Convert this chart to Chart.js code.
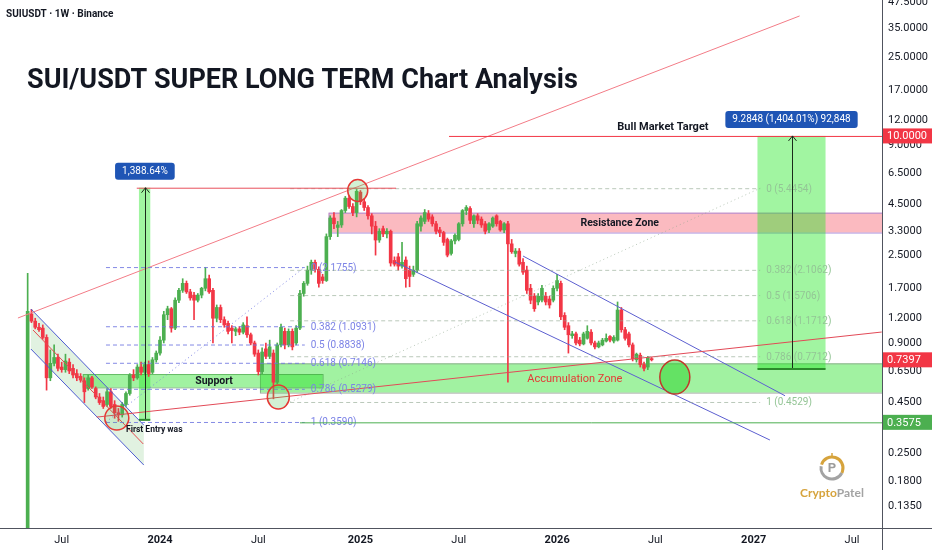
<!DOCTYPE html>
<html>
<head>
<meta charset="utf-8">
<script src="https://cdn.jsdelivr.net/npm/chart.js@4.4.1/dist/chart.umd.min.js"></script>
<style>
  html, body { margin: 0; padding: 0; background: #fff; }
  canvas { display: block; }
</style>
</head>
<body>
<canvas id="chart" width="932" height="550"></canvas>
<script>
// weekly SUIUSDT candles, first week starts 2023-05-01
const firstWeek = '2023-05-01';
const opens = [
  0.10, 1.26, 1.16, 1.08, 1.07, 0.96, 0.60, 0.71, 0.76, 0.68, 0.66, 0.72, 0.67, 0.63, 0.61, 0.58, 0.53, 0.60, 0.53, 0.48,
  0.46, 0.44, 0.51, 0.44, 0.40, 0.39, 0.44, 0.50, 0.62, 0.60, 0.68, 0.64, 0.70, 0.64, 0.74, 0.80, 0.93, 1.25, 1.34, 1.07,
  1.48, 1.66, 1.80, 1.63, 1.57, 1.48, 1.57, 1.70, 1.90, 1.66, 1.20, 1.36, 1.18, 1.13, 1.07, 1.03, 1.06, 1.02, 1.10, 0.99,
  0.90, 0.80, 0.645, 0.84, 0.77, 0.80, 0.57, 0.88, 1.03, 0.88, 1.03, 0.90, 1.07, 1.60, 1.80, 2.10, 2.30, 2.12, 1.94, 1.86,
  3.10, 3.85, 3.45, 3.55, 4.20, 4.85, 4.40, 4.10, 5.20, 4.65, 4.35, 3.95, 3.50, 2.98, 3.40, 3.20, 3.30, 2.35, 2.45, 2.20,
  2.36, 2.10, 2.00, 2.10, 3.50, 3.70, 4.05, 3.90, 3.60, 3.35, 3.25, 3.00, 2.55, 2.95, 3.00, 3.60, 4.20, 4.30, 3.60, 3.95,
  3.80, 3.60, 3.35, 3.50, 3.95, 3.70, 3.35, 3.60, 2.85, 2.55, 2.62, 2.30, 2.10, 1.70, 1.55, 1.45, 1.48, 1.55, 1.50, 1.48,
  1.70, 1.80, 1.24, 1.10, 0.98, 1.00, 0.93, 0.89, 0.95, 1.02, 0.90, 0.86, 0.88, 0.92, 0.97, 0.92, 0.93, 1.32, 1.05, 1.00,
  0.88, 0.74, 0.78, 0.70, 0.68, 0.75
];
const highs = [
  2.02, 1.33, 1.20, 1.13, 1.11, 0.99, 0.83, 0.88, 0.79, 0.72, 0.79, 0.75, 0.70, 0.66, 0.63, 0.60, 0.62, 0.61, 0.54, 0.50,
  0.48, 0.53, 0.53, 0.46, 0.42, 0.45, 0.51, 0.63, 0.66, 0.70, 0.72, 0.72, 0.73, 0.76, 0.82, 0.97, 1.30, 1.38, 1.36, 1.52,
  1.70, 1.90, 1.85, 1.68, 1.62, 1.60, 1.72, 2.17, 1.98, 1.70, 1.40, 1.40, 1.22, 1.16, 1.10, 1.08, 1.09, 1.14, 1.22, 1.01,
  0.92, 0.83, 0.85, 0.90, 0.93, 0.83, 0.90, 1.12, 1.07, 1.06, 1.06, 1.10, 1.66, 1.84, 2.20, 2.36, 2.36, 2.18, 2.00, 3.20,
  3.95, 4.10, 3.70, 4.25, 4.95, 4.95, 4.55, 5.37, 5.30, 4.80, 4.45, 4.05, 3.70, 3.40, 3.50, 3.40, 3.35, 2.45, 2.55, 2.90,
  2.45, 2.20, 2.20, 3.70, 3.95, 4.25, 4.20, 4.00, 3.70, 3.45, 3.30, 3.05, 3.00, 3.20, 3.65, 4.25, 4.45, 4.40, 4.00, 4.05,
  3.90, 3.70, 3.65, 3.90, 4.00, 3.75, 3.65, 3.70, 3.00, 2.70, 2.70, 2.40, 2.20, 1.78, 1.60, 1.60, 1.76, 1.62, 1.55, 1.75,
  2.00, 1.85, 1.28, 1.14, 1.03, 1.02, 0.96, 1.02, 1.10, 1.05, 0.92, 0.92, 0.95, 1.00, 0.98, 0.98, 1.45, 1.36, 1.08, 1.02,
  0.90, 0.80, 0.80, 0.72, 0.77, 0.76
];
const lows = [
  0.10, 1.14, 1.06, 1.03, 0.94, 0.52, 0.58, 0.69, 0.65, 0.64, 0.64, 0.63, 0.60, 0.58, 0.57, 0.45, 0.52, 0.53, 0.47, 0.44,
  0.42, 0.43, 0.42, 0.375, 0.362, 0.38, 0.43, 0.49, 0.58, 0.59, 0.62, 0.62, 0.61, 0.63, 0.72, 0.78, 0.90, 1.18, 1.02, 1.05,
  1.44, 1.62, 1.60, 1.48, 1.18, 1.45, 1.52, 1.65, 1.60, 0.90, 1.15, 1.14, 1.08, 1.00, 0.90, 0.98, 0.99, 1.00, 0.96, 0.88,
  0.77, 0.62, 0.63, 0.75, 0.75, 0.47, 0.56, 0.86, 0.84, 0.86, 0.83, 0.88, 1.05, 1.55, 1.76, 2.00, 2.05, 1.72, 1.80, 1.84,
  3.00, 3.40, 3.10, 3.45, 4.10, 4.30, 3.95, 3.90, 4.50, 4.20, 3.80, 3.20, 2.50, 2.90, 3.10, 3.05, 2.20, 2.20, 2.10, 2.15,
  1.72, 1.73, 1.95, 2.05, 3.30, 3.60, 3.70, 3.50, 3.20, 3.10, 2.80, 2.45, 2.50, 2.85, 2.95, 3.50, 4.00, 3.60, 3.45, 3.60,
  3.45, 3.20, 3.25, 3.45, 3.50, 3.30, 3.25, 0.57, 2.55, 2.45, 2.20, 2.00, 1.60, 1.42, 1.30, 1.40, 1.45, 1.40, 1.35, 1.45,
  1.65, 1.18, 1.05, 0.80, 0.95, 0.88, 0.87, 0.88, 0.94, 0.88, 0.84, 0.85, 0.87, 0.91, 0.91, 0.90, 0.92, 1.02, 0.93, 0.86,
  0.73, 0.72, 0.68, 0.65, 0.66, 0.73
];
const closes = [
  1.30, 1.16, 1.08, 1.05, 0.96, 0.60, 0.71, 0.76, 0.67, 0.66, 0.73, 0.65, 0.62, 0.60, 0.585, 0.51, 0.60, 0.54, 0.48, 0.45,
  0.43, 0.51, 0.43, 0.40, 0.39, 0.44, 0.50, 0.62, 0.60, 0.68, 0.64, 0.70, 0.63, 0.74, 0.80, 0.93, 1.25, 1.34, 1.07, 1.48,
  1.66, 1.80, 1.63, 1.52, 1.48, 1.57, 1.70, 1.90, 1.63, 1.20, 1.36, 1.18, 1.11, 1.03, 1.04, 1.06, 1.02, 1.11, 0.99, 0.90,
  0.79, 0.645, 0.81, 0.77, 0.86, 0.57, 0.88, 1.08, 0.88, 1.03, 0.86, 1.07, 1.60, 1.80, 2.10, 2.30, 2.12, 1.80, 1.86, 3.10,
  3.85, 3.60, 3.55, 4.20, 4.85, 4.40, 4.10, 5.25, 4.65, 4.35, 3.95, 3.50, 2.98, 3.30, 3.20, 3.30, 2.28, 2.25, 2.20, 2.30,
  1.90, 1.95, 2.10, 3.60, 3.85, 4.10, 3.80, 3.60, 3.30, 3.25, 2.90, 2.50, 2.95, 3.15, 3.60, 4.20, 4.35, 3.75, 3.95, 3.75,
  3.55, 3.30, 3.60, 3.85, 3.60, 3.35, 3.60, 2.85, 2.60, 2.62, 2.25, 2.05, 1.66, 1.48, 1.34, 1.55, 1.70, 1.45, 1.40, 1.70,
  1.86, 1.22, 1.08, 0.99, 1.00, 0.90, 0.89, 1.00, 1.03, 0.90, 0.86, 0.90, 0.93, 0.95, 0.93, 0.96, 1.32, 1.05, 0.95, 0.88,
  0.75, 0.79, 0.70, 0.67, 0.76, 0.7397
];

// axes
const xTickDates = ['2023-07-03', '2024-01-01', '2024-07-01', '2025-01-06', '2025-07-07', '2026-01-05', '2026-07-06', '2027-01-04', '2027-07-05'];
const xTickLabels = ['Jul', '2024', 'Jul', '2025', 'Jul', '2026', 'Jul', '2027', 'Jul'];
const yTicks = [47.5, 35, 25, 17, 12, 9, 6.5, 4.5, 3.3, 2.5, 1.7, 1.2, 0.9, 0.65, 0.45, 0.35, 0.25, 0.18, 0.135];

// fibonacci retracements
const fibLevels = [0, 0.382, 0.5, 0.618, 0.786, 1];
const leftFibPrices = [2.1755, 1.0931, 0.8838, 0.7146, 0.5279, 0.3590];
const rightFibPrices = [5.4454, 2.1062, 1.5706, 1.1712, 0.7712, 0.4529];

const UP = '#4caf50';
const DOWN = '#f23645';
const FONT = 'Roboto';

const toDay = s => (Date.parse(s) - Date.parse('2024-01-01')) / 864e5;
const FAR = '2028-06-01';

// drawings on the chart (date, price)
const leftChannel = {
  upper: [['2023-05-07', 1.336], ['2023-12-02', 0.346]],
  lower: [['2023-05-07', 0.839], ['2023-12-02', 0.2175]],
  mid: [['2023-05-11', 1.046], ['2023-12-01', 0.278]]
};
const rightChannel = [
  [['2025-11-03', 2.474], ['2027-03-03', 0.487]],
  [['2025-03-11', 2.307], ['2027-02-03', 0.291]]
];
const trendLines = [
  { pts: [['2023-04-13', 1.203], ['2027-03-30', 40.37]], color: '#f37c87' },
  { pts: [['2023-09-06', 0.380], ['2027-08-29', 1.022]], color: '#e24a57' }
];
const zones = [
  { from: '2024-11-08', to: FAR, top: 4.096, bottom: 3.25, fill: 'rgba(242,54,69,0.34)', edge: 'rgba(150,120,215,0.75)',
    text: 'Resistance Zone', at: '2026-05-01', color: '#131722', bold: true },
  { from: '2024-07-04', to: FAR, top: 0.710, bottom: 0.505, fill: 'rgba(30,225,30,0.42)', edge: 'rgba(120,130,120,0.6)',
    text: 'Accumulation Zone', at: '2026-02-07', color: '#e53935', bold: false },
  { from: '2023-08-11', to: '2024-10-28', top: 0.627, bottom: 0.537, fill: 'rgba(30,225,30,0.42)', edge: 'rgba(60,150,60,0.6)',
    text: 'Support', at: '2024-04-10', color: '#131722', bold: true }
];
const measures = [
  { from: '2023-11-23', to: '2023-12-14', mid: '2023-12-04', top: 5.476, bottom: 0.368, label: '1,388.64%' },
  { from: '2027-01-11', to: '2027-05-17', mid: '2027-03-15', top: 10.0, bottom: 0.665, label: '9.2848 (1,404.01%) 92,848' }
];
const hLines = [
  { price: 5.476, from: '2023-11-19', to: '2025-03-13', color: '#e8505b' },
  { price: 10.0, from: '2025-06-19', to: FAR, color: '#f23645' },
  { price: 0.3575, from: '2024-09-16', to: FAR, color: '#4caf50' }
];
const fibs = [
  { from: '2023-09-23', to: '2024-09-25', prices: leftFibPrices, line: 'rgba(110,118,225,0.85)', text: '#7c83e6' },
  { from: '2024-08-29', to: '2027-01-16', prices: rightFibPrices, line: 'rgba(140,165,140,0.6)', text: '#94c596' }
];
const circles = [
  { at: ['2023-10-13', 0.376], rx: 12, ry: 12, fill: 'rgba(76,175,80,0.15)' },
  { at: ['2024-08-07', 0.480], rx: 11, ry: 12, fill: 'rgba(76,200,80,0.25)' },
  { at: ['2025-01-01', 5.30], rx: 10, ry: 11, fill: 'rgba(76,200,80,0.25)' },
  { at: ['2026-08-11', 0.605], rx: 15, ry: 17, fill: 'rgba(40,210,40,0.5)', stroke: '#c0392b' }
];
const axisTags = [
  { price: 10.0, text: '10.0000', color: '#f23645' },
  { price: 0.7397, text: '0.7397', color: '#f23645' },
  { price: 0.3575, text: '0.3575', color: '#4caf50' }
];

const weekDays = closes.map((c, i) => toDay(firstWeek) + 7 * i);
const candleColors = closes.map((c, i) => c >= opens[i] ? UP : DOWN);
const bodies = closes.map((c, i) => ({ x: weekDays[i], y: [opens[i], c] }));
const wicks = closes.map((c, i) => ({ x: weekDays[i], y: [lows[i], highs[i]] }));

function line(ctx, a, b) {
  ctx.beginPath();
  ctx.moveTo(a[0], a[1]);
  ctx.lineTo(b[0], b[1]);
  ctx.stroke();
}

function roundBox(ctx, x, y, w, h, r) {
  ctx.beginPath();
  ctx.moveTo(x + r, y);
  ctx.arcTo(x + w, y, x + w, y + h, r);
  ctx.arcTo(x + w, y + h, x, y + h, r);
  ctx.arcTo(x, y + h, x, y, r);
  ctx.arcTo(x, y, x + w, y, r);
  ctx.closePath();
  ctx.fill();
}

const drawings = {
  id: 'drawings',
  beforeDatasetsDraw(chart) {
    const { ctx, chartArea: a } = chart;
    const X = d => chart.scales.x.getPixelForValue(toDay(d));
    const Y = p => chart.scales.y.getPixelForValue(p);
    const pt = q => [X(q[0]), Y(q[1])];
    ctx.save();
    ctx.beginPath();
    ctx.rect(a.left, a.top, a.right - a.left, a.bottom - a.top);
    ctx.clip();

    // falling channel fill
    const u = leftChannel.upper.map(pt), l = leftChannel.lower.map(pt);
    ctx.fillStyle = 'rgba(76,175,80,0.17)';
    ctx.beginPath();
    ctx.moveTo(u[0][0], u[0][1]);
    ctx.lineTo(u[1][0], u[1][1]);
    ctx.lineTo(l[1][0], l[1][1]);
    ctx.lineTo(l[0][0], l[0][1]);
    ctx.closePath();
    ctx.fill();

    zones.forEach(z => {
      const x1 = X(z.from), x2 = X(z.to), y1 = Y(z.top), y2 = Y(z.bottom);
      ctx.fillStyle = z.fill;
      ctx.fillRect(x1, y1, x2 - x1, y2 - y1);
      ctx.strokeStyle = z.edge;
      ctx.lineWidth = 1;
      ctx.strokeRect(x1 + 0.5, y1 + 0.5, x2 - x1, y2 - y1);
    });

    measures.forEach(m => {
      const x1 = X(m.from), x2 = X(m.to), y1 = Y(m.top), y2 = Y(m.bottom);
      ctx.fillStyle = 'rgba(30,230,30,0.42)';
      ctx.fillRect(x1, y1, x2 - x1, y2 - y1);
    });
    ctx.restore();
  },

  afterDatasetsDraw(chart) {
    const { ctx, chartArea: a } = chart;
    const X = d => chart.scales.x.getPixelForValue(toDay(d));
    const Y = p => chart.scales.y.getPixelForValue(p);
    const pt = q => [X(q[0]), Y(q[1])];
    ctx.save();
    ctx.beginPath();
    ctx.rect(a.left, a.top, a.right - a.left, a.bottom - a.top);
    ctx.clip();
    ctx.lineWidth = 1;

    // left falling channel
    ctx.strokeStyle = '#4d5bd0';
    line(ctx, ...leftChannel.upper.map(pt));
    line(ctx, ...leftChannel.lower.map(pt));
    ctx.strokeStyle = '#e5484f';
    line(ctx, ...leftChannel.mid.map(pt));

    // right falling channel
    ctx.strokeStyle = '#5c5fd0';
    rightChannel.forEach(c => line(ctx, ...c.map(pt)));

    // trend lines
    trendLines.forEach(t => {
      ctx.strokeStyle = t.color;
      line(ctx, ...t.pts.map(pt));
    });

    // fib retracements
    fibs.forEach(f => {
      const x1 = X(f.from), x2 = X(f.to);
      ctx.strokeStyle = f.line;
      ctx.setLineDash([4, 3]);
      f.prices.forEach(p => line(ctx, [x1, Y(p) + 0.5], [x2, Y(p) + 0.5]));
      ctx.setLineDash([1, 3]);
      line(ctx, [x1, Y(f.prices[5])], [x2, Y(f.prices[0])]);
      ctx.setLineDash([]);
      ctx.fillStyle = f.text;
      ctx.font = `10px ${FONT}`;
      ctx.textAlign = 'left';
      ctx.textBaseline = 'middle';
      f.prices.forEach((p, i) => ctx.fillText(`${fibLevels[i]} (${p.toFixed(4)})`, x2 + 6, Y(p) + 1));
    });

    // horizontal levels
    hLines.forEach(h => {
      ctx.strokeStyle = h.color;
      line(ctx, [X(h.from), Y(h.price) + 0.5], [X(h.to), Y(h.price) + 0.5]);
    });

    // price range measures
    measures.forEach(m => {
      const xm = Math.round(X(m.mid)) + 0.5, y1 = Y(m.top), y2 = Y(m.bottom);
      ctx.strokeStyle = '#1b2a1b';
      ctx.lineWidth = 1;
      line(ctx, [xm, y2], [xm, y1]);
      line(ctx, [xm - 4, y1 + 5], [xm, y1]);
      line(ctx, [xm + 4, y1 + 5], [xm, y1]);
      ctx.strokeStyle = '#2b8a2b';
      ctx.lineWidth = 2;
      line(ctx, [X(m.from), y2], [X(m.to), y2]);
      ctx.lineWidth = 1;
    });

    // circles
    circles.forEach(c => {
      const [cx, cy] = pt(c.at);
      ctx.beginPath();
      ctx.ellipse(cx, cy, c.rx, c.ry, 0, 0, Math.PI * 2);
      ctx.fillStyle = c.fill;
      ctx.fill();
      ctx.strokeStyle = c.stroke || '#e53935';
      ctx.lineWidth = 1.5;
      ctx.stroke();
    });
    ctx.lineWidth = 1;

    // zone captions
    ctx.textAlign = 'center';
    ctx.textBaseline = 'middle';
    zones.forEach(z => {
      ctx.font = `${z.bold ? 'bold ' : ''}${z.bold ? 10.5 : 11}px ${FONT}`;
      ctx.fillStyle = z.color;
      ctx.fillText(z.text, X(z.at), (Y(z.top) + Y(z.bottom)) / 2 + 1);
    });

    ctx.font = `bold 11px ${FONT}`;
    ctx.fillStyle = '#131722';
    ctx.fillText('Bull Market Target', X('2026-07-20'), Y(10) - 9);

    ctx.font = `bold 8.5px ${FONT}`;
    ctx.textAlign = 'left';
    ctx.fillText('First Entry was', X('2023-10-30'), Y(0.327));

    // measure labels
    measures.forEach(m => {
      ctx.font = `10px ${FONT}`;
      const w = ctx.measureText(m.label).width + 14;
      const xm = X(m.mid), yt = Y(m.top);
      ctx.fillStyle = '#1f55b5';
      roundBox(ctx, xm - w / 2, yt - 25, w, 17, 3);
      ctx.fillStyle = '#ffffff';
      ctx.textAlign = 'center';
      ctx.fillText(m.label, xm, yt - 16);
    });
    ctx.restore();
  },

  afterDraw(chart) {
    const { ctx, chartArea: a } = chart;
    const Y = p => chart.scales.y.getPixelForValue(p);
    ctx.save();

    // pane frame
    ctx.strokeStyle = '#50535e';
    ctx.lineWidth = 1;
    line(ctx, [a.right + 0.5, 0], [a.right + 0.5, 550]);
    line(ctx, [0, a.bottom + 0.5], [932, a.bottom + 0.5]);

    // price tags on the axis
    ctx.font = `11px ${FONT}`;
    ctx.textAlign = 'left';
    ctx.textBaseline = 'middle';
    axisTags.forEach(t => {
      const y = Y(t.price);
      ctx.fillStyle = t.color;
      ctx.fillRect(a.right + 1, y - 7.5, 932 - a.right - 1, 15);
      ctx.fillStyle = '#ffffff';
      ctx.fillText(t.text, a.right + 5, y + 0.5);
    });

    // header and title
    ctx.fillStyle = '#131722';
    ctx.font = `bold 10px ${FONT}`;
    ctx.fillText('SUIUSDT · 1W · Binance', 6, 14);
    const title = 'SUI/USDT SUPER LONG TERM Chart Analysis';
    ctx.font = `bold 28px ${FONT}`;
    const size = 28 * 551 / ctx.measureText(title).width;
    ctx.font = `bold ${size}px ${FONT}`;
    ctx.textBaseline = 'alphabetic';
    ctx.fillText(title, 27, 88);

    // watermark logo
    const lx = 832, ly = 468;
    ctx.lineWidth = 3;
    ctx.strokeStyle = '#d6a33c';
    ctx.beginPath();
    ctx.arc(lx, ly, 11, Math.PI * 1.1, Math.PI * 2.15);
    ctx.stroke();
    ctx.strokeStyle = '#a3a3a3';
    ctx.beginPath();
    ctx.arc(lx, ly, 11, Math.PI * 0.15, Math.PI * 1.05);
    ctx.stroke();
    ctx.lineWidth = 1.5;
    ctx.strokeStyle = '#d6a33c';
    line(ctx, [lx, ly - 15], [lx, ly - 10]);
    ctx.fillStyle = '#9c9c9c';
    ctx.font = `bold 13px ${FONT}`;
    ctx.textAlign = 'center';
    ctx.textBaseline = 'middle';
    ctx.fillText('P', lx, ly + 1);
    ctx.font = `bold 12px Lato`;
    ctx.textAlign = 'left';
    ctx.textBaseline = 'alphabetic';
    const w1 = ctx.measureText('Crypto').width, w2 = ctx.measureText('Patel').width;
    const tx = lx - (w1 + w2) / 2;
    ctx.fillStyle = '#d6a33c';
    ctx.fillText('Crypto', tx, 497);
    ctx.fillStyle = '#a3a3a3';
    ctx.fillText('Patel', tx + w1, 497);
    ctx.restore();
  }
};

const isYear = s => /^\d{4}$/.test(s);

new Chart(document.getElementById('chart'), {
  type: 'bar',
  data: {
    datasets: [
      { data: bodies, backgroundColor: candleColors, barThickness: 3, grouped: false, order: 1 },
      { data: wicks, backgroundColor: candleColors, barThickness: 1, grouped: false, order: 2 }
    ]
  },
  options: {
    responsive: false,
    animation: false,
    devicePixelRatio: 1,
    layout: { padding: 0 },
    plugins: { legend: { display: false }, tooltip: { enabled: false } },
    scales: {
      x: {
        type: 'linear',
        min: -296.2,
        max: 1336.5,
        offset: false,
        grid: { display: false, drawTicks: false },
        border: { display: false },
        afterBuildTicks: s => { s.ticks = xTickDates.map(d => ({ value: toDay(d) })); },
        afterFit: s => { s.height = 22; s.paddingLeft = 0; s.paddingRight = 0; },
        ticks: {
          autoSkip: false,
          maxRotation: 0,
          padding: 6,
          color: '#131722',
          font: c => ({ family: FONT, size: 11, weight: isYear(xTickLabels[c.index]) ? 'bold' : 'normal' }),
          callback: (v, i) => xTickLabels[i]
        }
      },
      y: {
        type: 'logarithmic',
        position: 'right',
        min: 0.1046,
        max: 48.6,
        grid: { display: false, drawTicks: false },
        border: { display: false },
        afterBuildTicks: s => { s.ticks = yTicks.map(v => ({ value: v })); },
        afterFit: s => { s.width = 50; s.paddingTop = 0; s.paddingBottom = 0; },
        ticks: {
          autoSkip: false,
          padding: 6,
          color: '#131722',
          font: { family: FONT, size: 11 },
          callback: v => Number(v).toFixed(4)
        }
      }
    }
  },
  plugins: [drawings]
});
</script>
</body>
</html>
